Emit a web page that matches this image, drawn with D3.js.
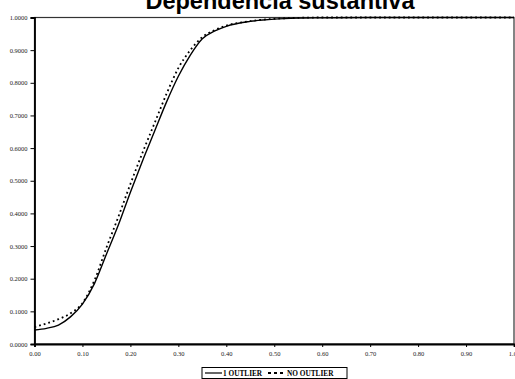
<!DOCTYPE html>
<html>
<head>
<meta charset="utf-8">
<script src="https://cdn.jsdelivr.net/npm/d3@7"></script>
<style>
  body { margin: 0; background: #fff; }
  svg { display: block; }
  .tick text { font-family: "Liberation Serif", "Times New Roman", serif; font-size: 6.5px; fill: #222; }
</style>
</head>
<body>
<div id="chart"></div>
<script>
// x values shared by both series
const xs = [0, 0.025, 0.05, 0.075, 0.1, 0.125, 0.15, 0.175, 0.2, 0.225, 0.25, 0.275,
            0.3, 0.325, 0.35, 0.375, 0.4, 0.45, 0.5, 0.55, 0.6, 0.7, 0.8, 0.9, 1.0]
const oneOutlier = [0.043, 0.048, 0.058, 0.083, 0.122, 0.185, 0.275, 0.365, 0.465, 0.56, 0.65, 0.74,
                    0.82, 0.885, 0.935, 0.958, 0.973, 0.988, 0.995, 0.998, 0.999, 1.0, 1.0, 1.0, 1.0]
const noOutlier  = [0.052, 0.063, 0.076, 0.094, 0.125, 0.195, 0.295, 0.39, 0.49, 0.585, 0.675, 0.765,
                    0.845, 0.9, 0.94, 0.961, 0.975, 0.989, 0.996, 0.999, 1.0, 1.0, 1.0, 1.0, 1.0]
const xTicks = [0, 0.1, 0.2, 0.3, 0.4, 0.5, 0.6, 0.7, 0.8, 0.9, 1.0]
const yTicks = [0, 0.1, 0.2, 0.3, 0.4, 0.5, 0.6, 0.7, 0.8, 0.9, 1.0]
const seriesNames = ["1 OUTLIER", "NO OUTLIER"]

const W = 515, H = 379
const margin = {top: 17.5, right: 1, bottom: 35, left: 34.5}

const svg = d3.select("#chart").append("svg")
    .attr("width", W)
    .attr("height", H)

const x = d3.scaleLinear().domain([0, 1]).range([margin.left, W - margin.right])
const y = d3.scaleLinear().domain([0, 1]).range([H - margin.bottom, margin.top])

// title (cut off by the top of the picture)
svg.append("text")
    .attr("x", 280)
    .attr("y", 8.5)
    .attr("text-anchor", "middle")
    .attr("font-family", "Liberation Sans, Arial, sans-serif")
    .attr("font-weight", "bold")
    .attr("font-size", 23.5)
    .text("Dependencia sustantiva")

// plot frame
svg.append("rect")
    .attr("x", x(0))
    .attr("y", y(1))
    .attr("width", x(1) - x(0))
    .attr("height", y(0) - y(1))
    .attr("fill", "none")
    .attr("stroke", "#333")
    .attr("stroke-width", 1.2)

// axes
const xAxis = svg.append("g")
    .attr("transform", `translate(0,${y(0)})`)
    .call(d3.axisBottom(x).tickValues(xTicks).tickFormat(d3.format(".2f")).tickSize(3).tickPadding(4))
const yAxis = svg.append("g")
    .attr("transform", `translate(${x(0)},0)`)
    .call(d3.axisLeft(y).tickValues(yTicks).tickFormat(d3.format(".4f")).tickSize(4).tickPadding(3))
;[xAxis, yAxis].forEach(g => {
  g.select(".domain").attr("stroke", "#000").attr("stroke-width", 1.8)
  g.selectAll(".tick line").attr("stroke", "#000")
})

const line = d3.line()
    .curve(d3.curveMonotoneX)
    .x((d, i) => x(xs[i]))
    .y(d => y(d))

svg.append("path")
    .attr("d", line(noOutlier))
    .attr("fill", "none")
    .attr("stroke", "#000")
    .attr("stroke-width", 1.8)
    .attr("stroke-dasharray", "1.8,3")

svg.append("path")
    .attr("d", line(oneOutlier))
    .attr("fill", "none")
    .attr("stroke", "#000")
    .attr("stroke-width", 1.4)

// legend
const legend = svg.append("g").attr("transform", "translate(202,367.5)")
legend.append("rect")
    .attr("width", 145)
    .attr("height", 11)
    .attr("fill", "#fff")
    .attr("stroke", "#000")
    .attr("stroke-width", 1)
const items = [
  {name: seriesNames[0], x0: 3, dash: null, tx: 21},
  {name: seriesNames[1], x0: 66, dash: "3,3", tx: 85}
]
items.forEach(it => {
  legend.append("line")
      .attr("x1", it.x0).attr("x2", it.x0 + 17)
      .attr("y1", 5.5).attr("y2", 5.5)
      .attr("stroke", "#000")
      .attr("stroke-width", it.dash ? 2 : 1.2)
      .attr("stroke-dasharray", it.dash)
  legend.append("text")
      .attr("x", it.tx)
      .attr("y", 8)
      .attr("font-family", "Liberation Serif, Times New Roman, serif")
      .attr("font-weight", "bold")
      .attr("font-size", 7.3)
      .text(it.name)
})
</script>
</body>
</html>
